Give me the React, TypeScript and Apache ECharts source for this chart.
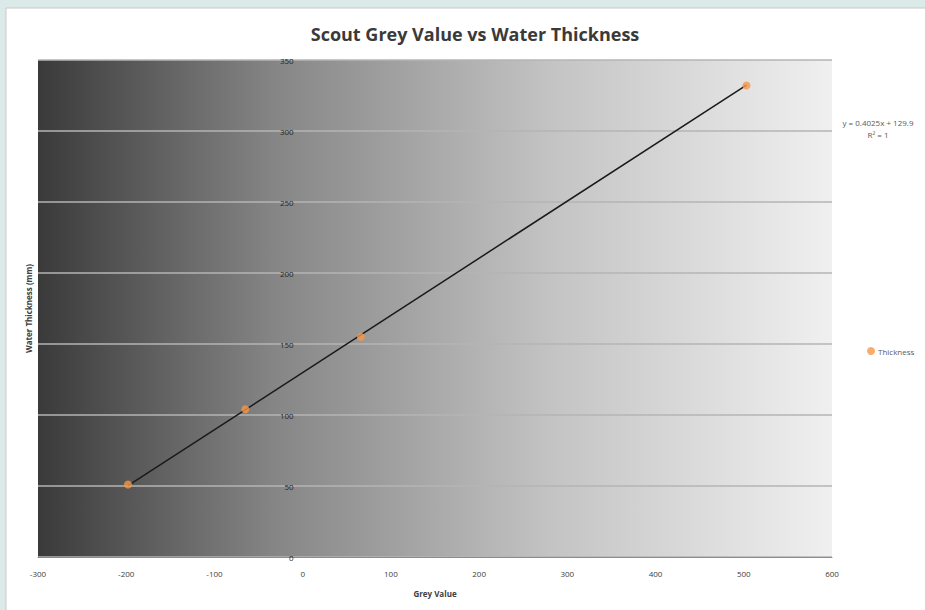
import React, { useEffect, useRef } from "react";
import * as echarts from "echarts";

const title = "Scout Grey Value vs Water Thickness";
const seriesName = "Thickness";
const xAxisName = "Grey Value";
const yAxisName = "Water Thickness (mm)";
const greyValues = [-198, -65, 66, 503];
const thickness = [51, 104, 155, 332];
const trendSlope = 0.4025;
const trendIntercept = 129.9;
const trendLabel = ["y = 0.4025x + 129.9", "R\u00b2 = 1"];

const FONT = "'Liberation Sans Narrow', 'Open Sans', sans-serif";

const GRID_LEFT = 38;
const GRID_RIGHT = 93;
const CHART_W = 925;
const X_MIN = -300;
const X_MAX = 600;

export default function App() {
  const ref = useRef<HTMLDivElement>(null);
  useEffect(() => {
    if (!ref.current) return;
    const chart = echarts.init(ref.current, undefined, { renderer: "svg" });
    const xMin = Math.min(...greyValues);
    const xMax = Math.max(...greyValues);
    const trend = [xMin, xMax].map((x) => [x, trendSlope * x + trendIntercept]);
    const plotW = CHART_W - GRID_LEFT - GRID_RIGHT;
    const zeroOffset = (plotW * (0 - X_MIN)) / (X_MAX - X_MIN);
    chart.setOption({
      animation: false,
      backgroundColor: "#dbeae8",
      textStyle: { fontFamily: FONT },
      title: {
        text: title,
        left: 470,
        top: 20,
        textAlign: "center",
        textStyle: { fontSize: 18, fontWeight: "bold", color: "#3a3a3a", fontFamily: FONT },
      },
      graphic: [
        {
          type: "rect",
          z: -10,
          shape: { x: 6, y: 8, width: 925, height: 610 },
          style: { fill: "#ffffff", stroke: "#c8c8c8", lineWidth: 1 },
        },
        {
          type: "text",
          x: 878,
          y: 116,
          style: {
            text: trendLabel.join("\n"),
            align: "center",
            fontSize: 8,
            lineHeight: 12,
            fill: "#595959",
            fontFamily: FONT,
          },
        },
      ],
      legend: {
        left: 862,
        top: 342,
        itemWidth: 8,
        itemHeight: 8,
        itemGap: 4,
        data: [{ name: seriesName, icon: "circle" }],
        textStyle: { fontSize: 8, color: "#595959", fontFamily: FONT, padding: [0, 0, 0, -2] },
      },
      grid: {
        left: GRID_LEFT,
        right: GRID_RIGHT,
        top: 60,
        bottom: 53,
        outerBoundsMode: "none",
        containLabel: false,
        show: true,
        borderWidth: 0,
        backgroundColor: new echarts.graphic.LinearGradient(0, 0, 1, 0, [
          { offset: 0, color: "#3a3a3a" },
          { offset: 0.3, color: "#868686" },
          { offset: 0.65, color: "#c4c4c4" },
          { offset: 1, color: "#f0f0f0" },
        ]),
      },
      xAxis: {
        type: "value",
        min: X_MIN,
        max: X_MAX,
        interval: 100,
        name: xAxisName,
        nameLocation: "middle",
        nameGap: 32,
        nameTextStyle: { fontSize: 8, fontWeight: "bold", color: "#404040", fontFamily: FONT },
        axisLine: { show: true, onZero: false, lineStyle: { color: "#8c8c8c", width: 1 } },
        axisTick: { show: false },
        splitLine: { show: false },
        axisLabel: { fontSize: 8, color: "#404040", margin: 12, fontFamily: FONT },
      },
      yAxis: {
        type: "value",
        position: "left",
        offset: -zeroOffset,
        min: 0,
        max: 350,
        interval: 50,
        name: yAxisName,
        nameLocation: "middle",
        nameGap: 270,
        nameTextStyle: { fontSize: 8, fontWeight: "bold", color: "#404040", fontFamily: FONT },
        axisLine: { show: false, onZero: false },
        axisTick: { show: false },
        splitLine: { show: true, lineStyle: { color: "#b4b4b4", width: 1.5 } },
        axisLabel: { fontSize: 8, color: "#1e1e1e", margin: 9, fontFamily: FONT },
      },
      series: [
        {
          name: seriesName,
          type: "scatter",
          data: greyValues.map((x, i) => [x, thickness[i]]),
          symbol: "circle",
          symbolSize: 8,
          itemStyle: { color: "#f79646" },
          z: 3,
        },
        {
          name: "trend",
          type: "line",
          data: trend,
          symbol: "none",
          lineStyle: { color: "#1a1a1a", width: 1.5 },
          z: 2,
        },
      ],
    });
    return () => chart.dispose();
  }, []);
  return (
    <div style={{ position: "fixed", left: 0, top: 0, width: 925, height: 610 }}>
      <div ref={ref} style={{ width: 925, height: 610 }} />
    </div>
  );
}
